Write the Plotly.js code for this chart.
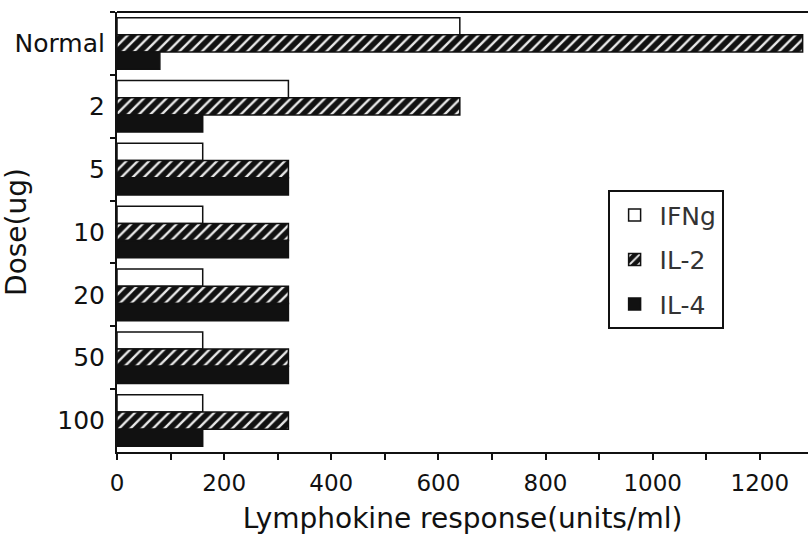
<!DOCTYPE html>
<html>
<head>
<meta charset="utf-8">
<script src="https://cdn.plot.ly/plotly-3.0.1.min.js"></script>
<style>html,body{margin:0;padding:0;background:#fff;}#chart{width:811px;height:542px;}</style>
</head>
<body>
<div id="chart"></div>
<script>
const doses = ["Normal", "2", "5", "10", "20", "50", "100"];
const ifng = [640, 320, 160, 160, 160, 160, 160];
const il2 = [1280, 640, 320, 320, 320, 320, 320];
const il4 = [80, 160, 320, 320, 320, 320, 160];
const xTickVals = [0, 100, 200, 300, 400, 500, 600, 700, 800, 900, 1000, 1100, 1200];
const xTickText = ["0", "", "200", "", "400", "", "600", "", "800", "", "1000", "", "1200"];

const FONT = "DejaVu Sans, Arial, sans-serif";

const traces = [
  {type: "bar", orientation: "h", name: "IFNg", y: doses, x: ifng, legendgroup: "a",
   marker: {color: "#ffffff", line: {color: "#111", width: 1.5}}},
  {type: "bar", orientation: "h", name: "IL-2", y: doses, x: il2, legendgroup: "b",
   marker: {color: "#111", line: {color: "#111", width: 1.5},
            pattern: {shape: "/", bgcolor: "#111", fgcolor: "#e8e8e8", size: 8, solidity: 0.3}}},
  {type: "bar", orientation: "h", name: "IL-4", y: doses, x: il4, legendgroup: "c",
   marker: {color: "#111", line: {color: "#111", width: 1.5}}}
];

const layout = {
  width: 811, height: 542,
  margin: {l: 117, r: 3, t: 12, b: 90},
  paper_bgcolor: "#fff", plot_bgcolor: "#fff",
  barmode: "group", bargap: 0.18, bargroupgap: 0,
  font: {family: FONT, color: "#111", size: 24},
  showlegend: true,
  legend: {x: 0.71, y: 0.595, xanchor: "left", yanchor: "top",
           traceorder: "grouped", tracegroupgap: 9, itemwidth: 40,
           bordercolor: "#111", borderwidth: 2, bgcolor: "#fff",
           font: {size: 25, family: FONT, color: "#333"}},
  xaxis: {range: [0, 1290], tickmode: "array", tickvals: xTickVals, ticktext: xTickText,
          ticks: "outside", ticklen: 6, tickwidth: 2, tickcolor: "#111",
          ticklabelstandoff: 3,
          showline: true, linewidth: 2, linecolor: "#111", mirror: false,
          showgrid: false, zeroline: false,
          tickfont: {size: 23, family: FONT},
          title: {text: "Lymphokine response(units/ml)", font: {size: 28, family: FONT}, standoff: 14}},
  yaxis: {type: "category", autorange: "reversed", tickson: "boundaries",
          ticks: "outside", ticklen: 5, tickwidth: 2, tickcolor: "#111",
          ticklabelstandoff: 5,
          showline: true, linewidth: 2, linecolor: "#111",
          showgrid: false, zeroline: false,
          tickfont: {size: 25, family: FONT},
          title: {text: "Dose(ug)", font: {size: 28, family: FONT}, standoff: 8}},
  shapes: [{type: "line", xref: "paper", yref: "paper", x0: 0, x1: 1, y0: 1, y1: 1,
            line: {color: "#111", width: 2}}]
};

Plotly.newPlot("chart", traces, layout, {displayModeBar: false, staticPlot: true});
</script>
</body>
</html>
